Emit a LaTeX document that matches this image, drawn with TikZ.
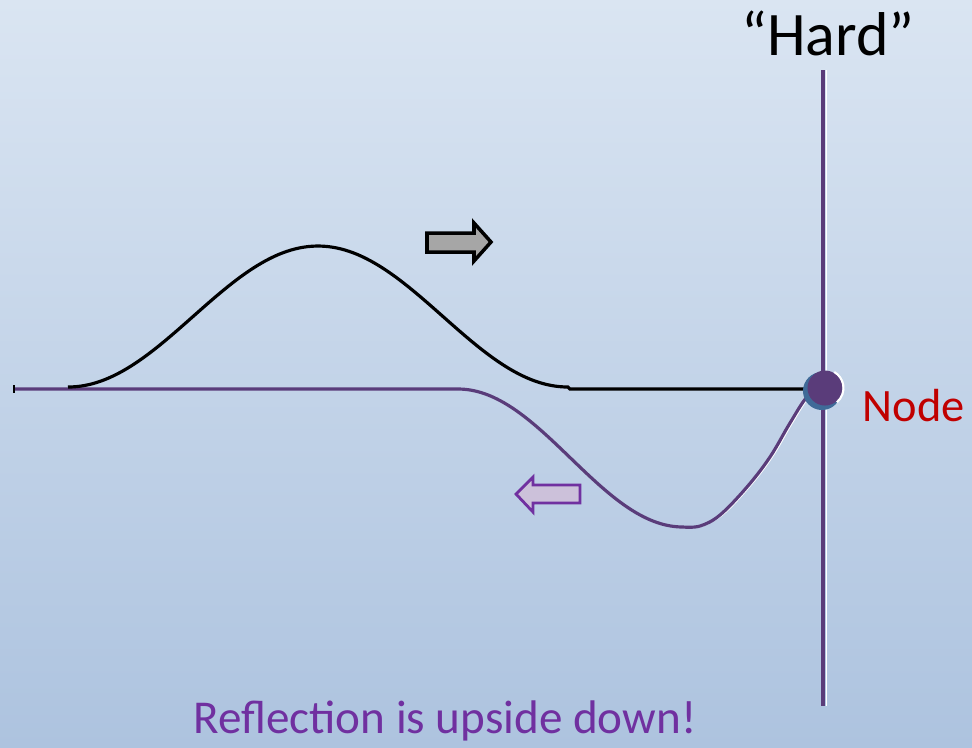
\documentclass[tikz,border=0pt]{standalone}
\usepackage{fontspec}
\setmainfont{Carlito}
\usetikzlibrary{positioning}
\definecolor{bgtop}{HTML}{DAE5F2}
\definecolor{bgbot}{HTML}{ADC3DF}
\definecolor{ropepurple}{HTML}{5A3C7A}
\definecolor{textpurple}{HTML}{7030A0}
\definecolor{nodered}{HTML}{C00000}
\definecolor{rimblue}{HTML}{3F6A98}
\definecolor{arrowgray}{HTML}{A6A6A6}
\definecolor{arrowlilac}{HTML}{CCC1DA}

\begin{document}
\begin{tikzpicture}[
  x=0.01cm, y=-0.01cm,
  pulse/.style={draw=black, line width=0.9pt},
  refl/.style={draw=ropepurple, line width=0.9pt, line join=round},
  wall/.style={draw=ropepurple, line width=1pt},
  shine/.style={draw=white, line width=0.5pt},
  fwdarrow/.style={draw=black, fill=arrowgray, line width=1pt, line join=miter},
  backarrow/.style={draw=textpurple, fill=arrowlilac, line width=0.8pt, line join=miter},
  hardlbl/.style={font=\fontsize{17.6}{20}\selectfont, text=black, anchor=base, inner sep=0pt},
  nodelbl/.style={font=\fontsize{13.2}{15}\selectfont, text=nodered, anchor=base west, inner sep=0pt},
  caption/.style={font=\fontsize{13.4}{16}\selectfont, text=textpurple, anchor=base, inner sep=0pt}
]
  % background
  \shade[top color=bgtop, bottom color=bgbot] (0,0) rectangle (972,747);
  \useasboundingbox (0,0) rectangle (972,747);

  % hard end of the string
  \coordinate (walltop) at (823,70);
  \coordinate (wallbot) at (823,706);
  \draw[shine, line width=0.5pt] ([xshift=0.035cm]walltop) -- ([xshift=0.035cm]wallbot);
  \draw[wall] (walltop) -- (wallbot);

  % reflected pulse (upside down)
  \draw[shine, xshift=0.02cm] plot[smooth, tension=0.6] coordinates {
    (697,527) (720,515) (747,487) (770,457) (790,423) (807,397) (822,388)};
  \draw[refl] (14,389) -- (458,389)
    -- plot[domain=458:683, samples=70] (\x, {389 + 138*(cos(0.4*(\x-683)))^2})
    -- plot[smooth, tension=0.6] coordinates {
    (683,527) (700,526) (720,515) (747,487) (770,457) (790,423)
    (807,397) (822,388)};
  \draw[black, line width=0.3pt] (14,385) -- (14,393);

  % incident pulse
  \draw[pulse] plot[domain=68:568, samples=120]
    (\x, {387 - 141*(cos(0.36*(\x-318)))^2}) -- (570,389) -- (808,389);

  % fixed point at the wall
  \fill[rimblue] (822,391) circle[radius=0.19cm];
  \fill[ropepurple] (825,388) circle[radius=0.175cm];
  \draw[shine, line width=0.6pt] ([shift={(-50:0.185cm)}]825,388) arc[start angle=-50, end angle=60, radius=0.185cm];
  \coordinate (knot) at (824,389);

  % direction arrows
  \draw[fwdarrow] (427,233) -- (474,233) -- (474,223) -- (491,242)
    -- (474,261) -- (474,252) -- (427,252) -- cycle;
  \draw[backarrow] (580,485) -- (533,485) -- (533,477) -- (516,494)
    -- (533,512) -- (533,503) -- (580,503) -- cycle;

  % labels
  \node[hardlbl] (hard) at (828,55) {“Hard”};
  \node[nodelbl] (nodetext) at (862,421) {Node};
  \node[caption] (note) at (445,733) {Reflection is upside down!};
\end{tikzpicture}
\end{document}
